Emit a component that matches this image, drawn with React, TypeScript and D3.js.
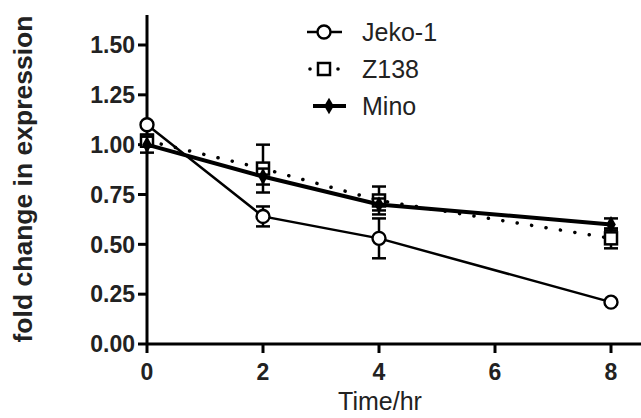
import React from "react";
import * as d3 from "d3";

// time points (hr)
const times = [0, 2, 4, 8];
const xTicks = [0, 2, 4, 6, 8];
const yTicks = [0, 0.25, 0.5, 0.75, 1.0, 1.25, 1.5];

// fold change means + SEM
const jekoMean = [1.1, 0.64, 0.53, 0.21];
const jekoErr = [0.01, 0.05, 0.1, 0.01];
const z138Mean = [1.02, 0.88, 0.72, 0.53];
const z138Err = [0.03, 0.12, 0.07, 0.05];
const minoMean = [1.0, 0.84, 0.7, 0.6];
const minoErr = [0.04, 0.04, 0.03, 0.03];

const seriesNames = ["Jeko-1", "Z138", "Mino"];

const W = 641;
const H = 418;
const font = "'Liberation Sans', Arial, sans-serif";

export default function App() {
  const x = d3.scaleLinear().domain([0, 8]).range([147, 611]);
  const y = d3.scaleLinear().domain([0, 1.5]).range([344, 45]);
  const line = d3
    .line<number>()
    .x((d, i) => x(times[i]))
    .y((d) => y(d));

  const series = [
    { name: seriesNames[0], mean: jekoMean, err: jekoErr, width: 2.5, dash: null },
    { name: seriesNames[1], mean: z138Mean, err: z138Err, width: 3.5, dash: "0.1 14.5" },
    { name: seriesNames[2], mean: minoMean, err: minoErr, width: 4, dash: null },
  ];

  const diamond = d3.symbol().type(d3.symbolDiamond).size(80)();

  const marker = (name: string, cx: number, cy: number, key: any) => {
    if (name === "Jeko-1")
      return <circle key={key} cx={cx} cy={cy} r={6.5} fill="white" stroke="black" strokeWidth={2.4} />;
    if (name === "Z138")
      return <rect key={key} x={cx - 6} y={cy - 6} width={12} height={12} fill="white" stroke="black" strokeWidth={2.5} />;
    return <path key={key} d={diamond!} transform={`translate(${cx},${cy})`} fill="black" />;
  };

  return (
    <svg width={W} height={H} style={{ position: "absolute", left: 0, top: 0, background: "white" }}>
      {/* axes */}
      <g stroke="black" strokeWidth={3}>
        <line x1={x(0)} x2={x(0)} y1={y(1.65)} y2={y(0)} />
        <line x1={x(0)} x2={641} y1={y(0)} y2={y(0)} />
        {yTicks.map((t) => (
          <line key={t} x1={x(0) - 9} x2={x(0)} y1={y(t)} y2={y(t)} />
        ))}
        {xTicks.map((t) => (
          <line key={t} x1={x(t)} x2={x(t)} y1={y(0)} y2={y(0) + 9} />
        ))}
      </g>
      <g fontFamily={font} fontWeight="bold" fontSize={23} fill="#222">
        {yTicks.map((t) => (
          <text key={t} x={x(0) - 12} y={y(t)} dy="0.36em" textAnchor="end">
            {t.toFixed(2)}
          </text>
        ))}
        {xTicks.map((t) => (
          <text key={t} x={x(t)} y={380} textAnchor="middle">
            {t}
          </text>
        ))}
      </g>
      <text
        transform={`translate(32,179) rotate(-90)`}
        textAnchor="middle"
        fontFamily={font}
        fontWeight="bold"
        fontSize={26.5}
        fill="#222"
      >
        fold change in expression
      </text>
      <text x={380} y={410} textAnchor="middle" fontFamily={font} fontSize={25} fill="#222">
        Time/hr
      </text>

      {/* series */}
      {series.map((s) => (
        <g key={s.name}>
          <path
            d={line(s.mean)!}
            fill="none"
            stroke="black"
            strokeWidth={s.width}
            strokeDasharray={s.dash ?? undefined}
            strokeLinecap={s.dash ? "round" : "butt"}
          />
          {s.mean.map((m, i) => (
            <g key={i} stroke="black" strokeWidth={2.5}>
              <line x1={x(times[i])} x2={x(times[i])} y1={y(m - s.err[i])} y2={y(m + s.err[i])} />
              <line x1={x(times[i]) - 7} x2={x(times[i]) + 7} y1={y(m - s.err[i])} y2={y(m - s.err[i])} />
              <line x1={x(times[i]) - 7} x2={x(times[i]) + 7} y1={y(m + s.err[i])} y2={y(m + s.err[i])} />
            </g>
          ))}
          {s.mean.map((m, i) => marker(s.name, x(times[i]), y(m), "m" + i))}
        </g>
      ))}

      {/* legend */}
      {series.map((s, i) => {
        const ly = 32 + i * 37;
        return (
          <g key={s.name}>
            {s.name === "Z138" ? (
              <g fill="black">
                <circle cx={310} cy={ly} r={1.8} />
                <circle cx={338} cy={ly} r={1.8} />
              </g>
            ) : (
              <line x1={s.name === "Mino" ? 313 : 307} x2={s.name === "Mino" ? 346 : 342} y1={ly} y2={ly} stroke="black" strokeWidth={s.width} />
            )}
            {marker(s.name, s.name === "Mino" ? 329 : 324, ly, "lm")}
            <text x={362} y={ly} dy="0.36em" fontFamily={font} fontSize={25} fill="#222">
              {s.name}
            </text>
          </g>
        );
      })}
    </svg>
  );
}
